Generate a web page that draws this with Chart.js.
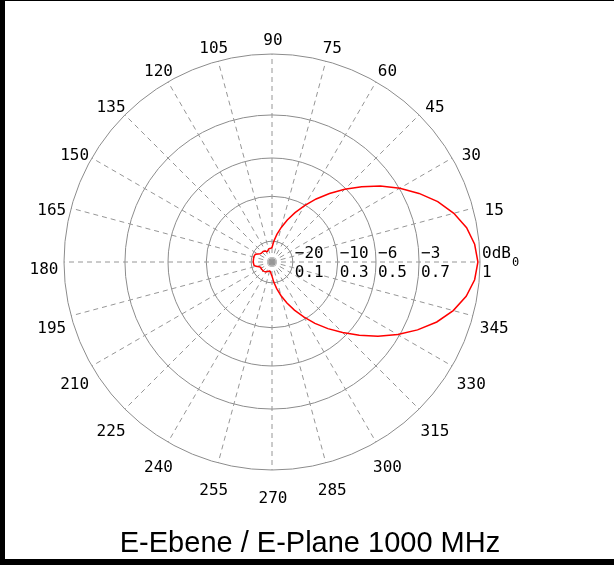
<!DOCTYPE html>
<html>
<head>
<meta charset="utf-8">
<script src="https://cdn.jsdelivr.net/npm/chart.js@4.4.1/dist/chart.umd.min.js"></script>
<style>
  html, body { margin: 0; padding: 0; background: #fff; }
  #frame { position: absolute; left: 0; top: 0; width: 614px; height: 565px; box-sizing: border-box;
           border-left: 5px solid #000; border-top: 1px solid #000; border-bottom: 6px solid #000; }
  #plot { display: block; }
  #title { position: absolute; left: 0; top: 528px; width: 620px; text-align: center;
           font-family: "Liberation Sans", Arial, sans-serif; font-size: 29px; line-height: 29px; color: #000; }
</style>
</head>
<body>
<div id="frame"><canvas id="plot" width="609" height="558"></canvas></div>
<div id="title">E-Ebene / E-Plane 1000 MHz</div>
<script>
// measured angles (deg, counter-clockwise from 0 at the right)
const angles = [0, 5, 10, 15, 20, 25, 30, 35, 40, 45, 50, 55, 60, 65, 70, 75, 80, 85,
    90, 95, 100, 105, 110, 115, 120, 125, 130, 135, 140, 145, 150, 155, 160, 165, 170, 175,
    180, 185, 190, 195, 200, 205, 210, 215, 220, 225, 230, 235, 240, 245, 250, 255, 260, 265,
    270, 275, 280, 285, 290, 295, 300, 305, 310, 315, 320, 325, 330, 335, 340, 345, 350, 355];

// relative field strength (linear, 1 = 0 dB)
const gain = [0.99, 0.978, 0.95, 0.905, 0.848, 0.78, 0.71, 0.636, 0.563, 0.494, 0.43, 0.37,
    0.313, 0.262, 0.215, 0.172, 0.135, 0.1,
    0.07, 0.066, 0.066, 0.064, 0.058, 0.055, 0.06, 0.064, 0.066, 0.066, 0.066, 0.07,
    0.078, 0.088, 0.09, 0.091, 0.09, 0.09,
    0.09, 0.089, 0.088, 0.08, 0.066, 0.06, 0.06, 0.061, 0.06, 0.06, 0.059, 0.057,
    0.054, 0.05, 0.047, 0.045, 0.046, 0.055,
    0.068, 0.097, 0.13, 0.168, 0.21, 0.255, 0.305, 0.36, 0.418, 0.48, 0.548, 0.622,
    0.698, 0.772, 0.843, 0.902, 0.948, 0.978];

const spokeAngles = [0, 15, 30, 45, 60, 75, 90, 105, 120, 135, 150, 165,
    180, 195, 210, 225, 240, 255, 270, 285, 300, 315, 330, 345];
const angleTicks = [15, 30, 45, 60, 75, 90, 105, 120, 135, 150, 165,
    180, 195, 210, 225, 240, 255, 270, 285, 300, 315, 330, 345];

const ringValues = [0.1, 0.316, 0.5, 0.707, 1];
const ringDb = ['\u221220', '\u221210', '\u22126', '\u22123', '0dB'];
const ringLin = ['0.1', '0.3', '0.5', '0.7', '1'];

// radar runs clockwise, so walk the angles backwards
const order = angles.map((a, i) => (angles.length - i) % angles.length);
const labels = order.map(k => angles[k]);
const values = order.map(k => gain[k]);

const monoFont = '"DejaVu Sans Mono", monospace';

const polarText = {
    id: 'polarText',
    afterDraw(chart) {
        const s = chart.scales.r;
        const ctx = chart.ctx;
        ctx.save();
        ctx.fillStyle = '#000';
        ctx.font = '16px ' + monoFont;
        ctx.textAlign = 'center';
        ctx.textBaseline = 'middle';
        labels.forEach((deg, i) => {
            if (!angleTicks.includes(deg)) return;
            const p = s.getPointPosition(i, s.drawingArea + 21);
            ctx.fillText(String(deg), p.x + 1, p.y + 8);
        });

        ctx.textAlign = 'left';
        ctx.textBaseline = 'alphabetic';
        ringValues.forEach((v, k) => {
            const x = s.xCenter + s.getDistanceFromCenterForValue(v) + 2;
            ctx.fillText(ringDb[k], x, s.yCenter - 4);
            ctx.fillText(ringLin[k], x, s.yCenter + 15);
        });
        const x0 = s.xCenter + s.getDistanceFromCenterForValue(1) + 2;
        const w = ctx.measureText(ringDb[ringDb.length - 1]).width;
        ctx.font = '12px ' + monoFont;
        ctx.fillText('0', x0 + w + 1, s.yCenter + 4);
        ctx.restore();
    }
};

new Chart(document.getElementById('plot').getContext('2d'), {
    type: 'radar',
    data: {
        labels: labels,
        datasets: [{
            data: values,
            borderColor: '#ff0000',
            borderWidth: 1.5,
            pointRadius: 0,
            fill: false,
            tension: 0
        }]
    },
    options: {
        responsive: false,
        animation: false,
        layout: { padding: { left: 59, top: 53, right: 134, bottom: 89 } },
        plugins: { legend: { display: false }, tooltip: { enabled: false } },
        scales: {
            r: {
                min: 0,
                max: 1,
                startAngle: 90,
                afterBuildTicks: scale => {
                    scale.ticks = [0].concat(ringValues).map(v => ({ value: v }));
                },
                ticks: { display: false },
                grid: { circular: true, color: '#8c8c8c', lineWidth: 1 },
                angleLines: {
                    color: '#969696',
                    lineWidth: c => (spokeAngles.includes(labels[c.index]) ? 1 : 0),
                    borderDash: [5, 4]
                },
                pointLabels: { display: false }
            }
        }
    },
    plugins: [polarText]
});
</script>
</body>
</html>
